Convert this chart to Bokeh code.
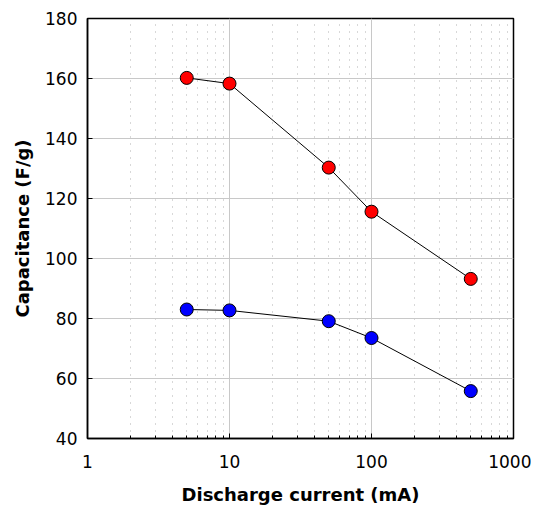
from bokeh.plotting import figure
from bokeh.models import FixedTicker, Range1d
from bokeh.embed import file_html
from bokeh.resources import INLINE

current = [5, 10, 50, 100, 500]
cap_red = [160.2, 158.3, 130.3, 115.6, 93.2]
cap_blue = [83.0, 82.7, 79.1, 73.5, 55.8]
x_ticks = [1, 10, 100, 1000]
y_ticks = [40, 60, 80, 100, 120, 140, 160, 180]
x_minor = [m * d for d in (1, 10, 100) for m in range(2, 10)]

p = figure(width=531, height=508, x_axis_type="log",
           x_range=Range1d(1, 1000), y_range=Range1d(40, 180),
           output_backend="svg", toolbar_location=None,
           min_border_left=87, min_border_right=18, min_border_top=18, min_border_bottom=70)

p.xaxis.ticker = FixedTicker(ticks=x_ticks, minor_ticks=x_minor)
p.yaxis.ticker = FixedTicker(ticks=y_ticks)
p.xaxis.major_label_overrides = {1: "1", 10: "10", 100: "100", 1000: "1000"}

for ax in (p.xaxis[0], p.yaxis[0]):
    ax.axis_line_color = "black"
    ax.axis_line_width = 1.5
    ax.major_tick_in = 5
    ax.major_tick_out = 0
    ax.minor_tick_in = 3
    ax.minor_tick_out = 0
    ax.major_tick_line_color = "black"
    ax.minor_tick_line_color = "black"
    ax.major_label_text_font = "DejaVu Sans"
    ax.major_label_text_font_size = "17px"
    ax.major_label_text_color = "black"
    ax.axis_label_text_font = "DejaVu Sans"
    ax.axis_label_text_font_size = "18px"
    ax.axis_label_text_font_style = "bold"
    ax.axis_label_text_color = "black"

p.yaxis.minor_tick_in = 0
p.xaxis.axis_label = "Discharge current (mA)"
p.yaxis.axis_label = "Capacitance (F/g)"
p.xaxis.major_label_standoff = 16
p.yaxis.major_label_standoff = 10
p.xaxis.axis_label_standoff = 13
p.yaxis.axis_label_standoff = 9

p.outline_line_color = "black"
p.outline_line_width = 1.5

p.xgrid.grid_line_color = "#c8c8c8"
p.ygrid.grid_line_color = "#c8c8c8"
p.xgrid.grid_line_width = 1
p.ygrid.grid_line_width = 1
p.xgrid.minor_grid_line_color = "#b0b0b0"
p.xgrid.minor_grid_line_dash = "1 6"

p.line(current, cap_red, line_color="black", line_width=1)
p.scatter(current, cap_red, size=13, fill_color="red", line_color="black", line_width=1)
p.line(current, cap_blue, line_color="black", line_width=1)
p.scatter(current, cap_blue, size=13, fill_color="blue", line_color="black", line_width=1)

open("out.html", "w").write(file_html(p, INLINE))
